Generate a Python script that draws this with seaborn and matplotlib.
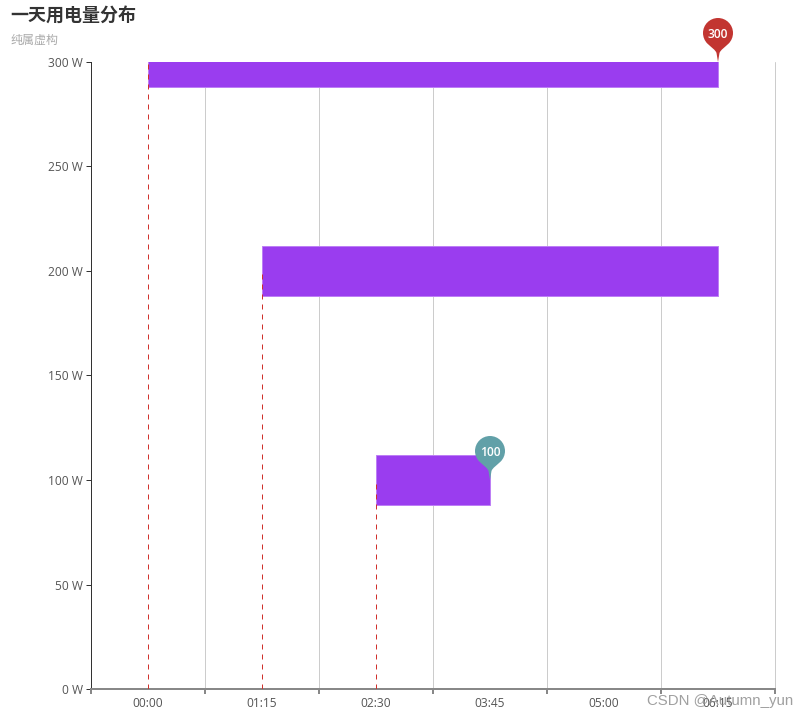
import pandas as pd
import matplotlib.pyplot as plt
import seaborn as sns
from matplotlib.path import Path
from matplotlib.ticker import FixedLocator, NullFormatter

# data
time_labels = ['00:00', '01:15', '02:30', '03:45', '05:00', '06:15']
power_watts = [100, 200, 300]
start_slots = [2, 1, 0]
end_slots = [3, 5, 5]
y_ticks = [0, 50, 100, 150, 200, 250, 300]
pin_slots = [5, 3]
pin_values = [300, 100]
pin_colors = ['#c23531', '#61a0a8']

BAR_COLOR = '#9a3def'
BAR_EDGE = '#bd7ff5'
TEXT_COLOR = '#555555'
PX = 0.72  # one pixel in points at dpi 100


def pin_marker():
    # teardrop with the tip at the origin, head centre 29 above it
    r = 15
    c = 29
    k = 0.5523 * r
    right = [
        (0.5, 3), (1.0, 6), (1.5, 9),
        (2.5, 12), (6.5, 14.5), (10.6, 18.4),
        (13.4, 21.2), (r, c - 4), (r, c),
        (r, c + k), (k, c + r), (0, c + r),
    ]
    left = [(-x, y) for x, y in reversed(right[:-1])]
    verts = [(0, 0)] + right + left + [(0, 0), (0, 0)]
    codes = [Path.MOVETO] + [Path.CURVE4] * (len(verts) - 2) + [Path.CLOSEPOLY]
    return Path(verts, codes)


def main():
    sns.set_theme(style='white')
    plt.rcParams['font.family'] = ['Noto Sans CJK SC', 'DejaVu Sans']
    tick_font = ['Open Sans', 'DejaVu Sans']

    fig = plt.figure(figsize=(8.08, 7.18), dpi=100)
    ax = fig.add_axes([91 / 808, 1 - 689 / 718, 684 / 808, 627 / 718])

    df = pd.DataFrame({'power': power_watts, 'start': start_slots, 'end': end_slots})
    df['length'] = df['end'] - df['start']

    sns.barplot(data=df, x='length', y='power', orient='y', native_scale=True,
                left=df['start'].to_numpy(), width=0.24, color=BAR_COLOR, saturation=1,
                edgecolor=BAR_EDGE, linewidth=PX, ax=ax, zorder=3)

    # dashed guide from each bar start down to the axis
    ax.vlines(df['start'], 0, df['power'], color='#d0312d', linewidth=PX,
              linestyles=(0, (5, 5)), zorder=4)

    ax.set_xlim(-0.5, 5.5)
    ax.set_ylim(0, 300)

    ax.xaxis.set_major_locator(FixedLocator([i - 0.5 for i in range(len(time_labels) + 1)]))
    ax.xaxis.set_major_formatter(NullFormatter())
    ax.set_xticks(range(len(time_labels)), time_labels, minor=True, family=tick_font)
    ax.set_yticks(y_ticks, [f'{v} W' for v in y_ticks], family=tick_font)
    ax.set_xlabel('')
    ax.set_ylabel('')

    ax.grid(axis='x', which='major', color='#cccccc', linewidth=PX)
    ax.grid(axis='y', visible=False)
    for line in ax.get_xgridlines():
        line.set_clip_on(False)
    ax.set_axisbelow(True)
    ax.tick_params(axis='x', which='major', length=5 * PX, width=2 * PX, color='#888888', bottom=True)
    ax.tick_params(axis='x', which='minor', length=0, pad=5.5, labelsize=8.64, labelcolor=TEXT_COLOR)
    ax.tick_params(axis='y', length=5 * PX, width=PX, color='#333333', left=True, pad=2,
                   labelsize=8.64, labelcolor=TEXT_COLOR)

    sns.despine(ax=ax, top=True, right=True)
    ax.spines['left'].set_color('#333333')
    ax.spines['left'].set_linewidth(PX)
    ax.spines['bottom'].set_color('#888888')
    ax.spines['bottom'].set_linewidth(2 * PX)

    # pins at the top value and the lowest value
    pins = pd.DataFrame({'slot': pin_slots, 'value': pin_values})
    sns.scatterplot(data=pins, x='slot', y='value', hue='slot', palette=pin_colors,
                    hue_order=pin_slots, marker=pin_marker(), s=4014, linewidth=0,
                    legend=False, clip_on=False, zorder=5, ax=ax)
    ax.set_xlabel('')
    ax.set_ylabel('')
    for slot, value in zip(pin_slots, pin_values):
        ax.annotate(str(value), (slot, value), xytext=(0, 19.5), textcoords='offset points',
                    ha='center', va='center', color='white', fontsize=8.64, fontweight='semibold',
                    family=tick_font, zorder=6, annotation_clip=False)

    fig.text(10.5 / 808, 1 - 16 / 718, '一天用电量分布', fontsize=12.96, fontweight='bold',
             color='#333333', ha='left', va='center')
    fig.text(10.5 / 808, 1 - 40 / 718, '纯属虚构', fontsize=8.64, color='#aaaaaa',
             ha='left', va='center')
    fig.text(793 / 808, 1 - 701 / 718, 'CSDN @Autumn_yun', fontsize=10.8, color='#888888',
             alpha=0.8, family='Liberation Sans', ha='right', va='center')

    fig.savefig('out.png', dpi=100)


if __name__ == "__main__":
    main()
